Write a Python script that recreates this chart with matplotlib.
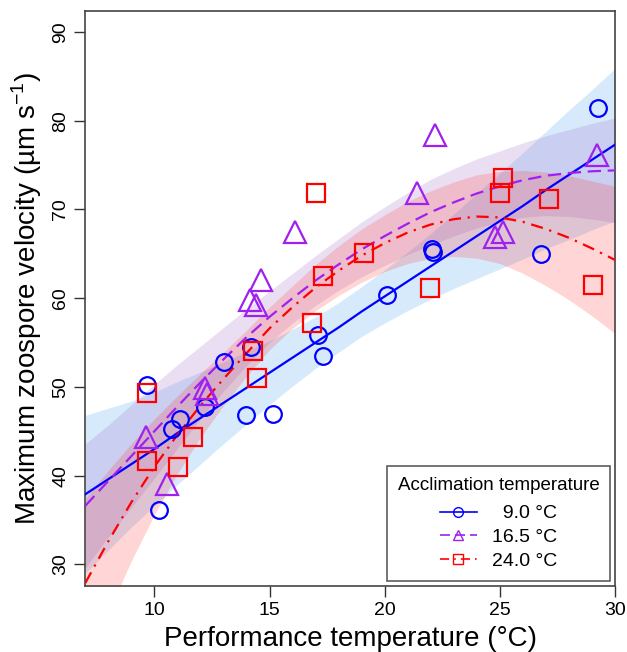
import numpy as np
import matplotlib
matplotlib.use('Agg')
import matplotlib.pyplot as plt
from matplotlib.lines import Line2D

plt.rcParams['font.family'] = ['Liberation Sans', 'DejaVu Sans']
plt.rcParams['mathtext.fontset'] = 'custom'
plt.rcParams['mathtext.rm'] = 'Liberation Sans'

x_9 = [29.26, 26.79, 22.05, 22.08, 20.1, 17.1, 17.32, 15.15, 13.98, 14.18,
       13.01, 12.21, 11.1, 10.77, 9.68, 10.22]
y_9 = [81.4, 65.0, 65.5, 65.2, 60.3, 55.8, 53.5, 46.9, 46.8, 54.5,
       52.8, 47.7, 46.4, 45.3, 50.2, 36.1]

x_16 = [29.2, 22.19, 21.4, 25.13, 24.79, 16.12, 14.64, 14.16, 14.41, 12.21,
        12.3, 9.65, 10.55]
y_16 = [76.1, 78.4, 71.9, 67.5, 66.9, 67.5, 62.0, 59.8, 59.2, 49.9,
        49.2, 44.4, 39.1]

x_24 = [17.03, 17.3, 19.08, 16.84, 25.12, 25.01, 27.14, 21.97, 29.06, 14.26,
        14.45, 9.68, 11.68, 9.68, 11.01]
y_24 = [71.8, 62.5, 65.05, 57.2, 73.5, 71.8, 71.2, 61.1, 61.5, 54.1,
        51.0, 49.3, 44.3, 41.6, 41.0]

# fitted curves and half-width of the 95% bands, read at each degree
curve_x = list(range(7, 31))
fit_9 = [37.9, 39.6, 41.3, 43.0, 44.8, 46.5, 48.2, 49.9, 51.6, 53.3, 55.0, 56.7,
         58.5, 60.2, 61.9, 63.6, 65.3, 67.0, 68.7, 70.4, 72.2, 73.9, 75.6, 77.3]
hw_9 = [8.9, 8.0, 7.1, 6.4, 5.8, 5.2, 4.6, 4.1, 3.6, 3.2, 2.9, 2.8,
        2.8, 3.0, 3.3, 3.7, 4.2, 4.8, 5.4, 6.0, 6.6, 7.3, 7.9, 8.6]
fit_16 = [36.6, 39.4, 42.2, 45.0, 47.8, 50.5, 53.1, 55.6, 57.9, 60.0, 62.0, 63.8,
          65.5, 67.0, 68.4, 69.7, 70.8, 71.8, 72.6, 73.3, 73.8, 74.1, 74.3, 74.4]
hw_16 = [7.0, 6.3, 5.8, 5.3, 4.7, 4.1, 3.6, 3.2, 2.9, 2.8, 2.8, 2.9,
         3.1, 3.3, 3.5, 3.7, 3.8, 3.9, 4.0, 4.2, 4.5, 4.9, 5.4, 5.9]
fit_24 = [27.9, 32.6, 37.0, 41.0, 44.6, 47.9, 50.9, 53.8, 56.6, 59.0, 61.2, 63.1,
          64.8, 66.2, 67.4, 68.3, 68.9, 69.2, 69.1, 68.6, 67.8, 66.8, 65.6, 64.3]
hw_24 = [9.5, 8.0, 6.6, 5.4, 4.4, 3.6, 3.0, 2.6, 2.4, 2.4, 2.6, 2.8,
         3.0, 3.2, 3.5, 3.8, 4.2, 4.7, 5.2, 5.8, 6.4, 7.0, 7.6, 8.3]

labels = ['\u20079.0 °C', '16.5 °C', '24.0 °C']
colors = ['#0000ff', '#a020f0', '#ff0000']
band_colors = ['#3a9af0', '#9a60c0', '#ff3030']
markers = ['o', '^', 's']
styles = ['-', (0, (6, 3)), (0, (5.5, 3, 1, 3))]
msizes = [12, 16, 13]

fig = plt.figure(figsize=(6.27, 6.52), dpi=100)
ax = fig.add_axes([0.136, 0.1017, 0.845, 0.882])

groups = [(x_9, y_9), (x_16, y_16), (x_24, y_24)]
fits = [(fit_9, hw_9), (fit_16, hw_16), (fit_24, hw_24)]

for i, (fit, hw) in enumerate(fits):
    fit = np.array(fit)
    hw = np.array(hw)
    ax.fill_between(curve_x, fit - hw, fit + hw, color=band_colors[i],
                    alpha=0.2, linewidth=0, zorder=1)
    ax.plot(curve_x, fit, color=colors[i], linestyle=styles[i], linewidth=1.6, zorder=3)

for i, (gx, gy) in enumerate(groups):
    ax.plot(gx, gy, linestyle='none', marker=markers[i], markersize=msizes[i],
            markerfacecolor='none', markeredgecolor=colors[i],
            markeredgewidth=1.6, zorder=4)

ax.set_xlim(7, 30)
ax.set_ylim(27.6, 92.4)
ax.set_xticks([10, 15, 20, 25, 30])
ax.set_yticks([30, 40, 50, 60, 70, 80, 90])
ax.tick_params(direction='out', length=8, width=1, colors='#333333',
               labelcolor='black', labelsize=14)
plt.setp(ax.get_yticklabels(), rotation=90, va='center')
for sp in ax.spines.values():
    sp.set_color('#444444')
    sp.set_linewidth(1.2)

ax.set_xlabel('Performance temperature (°C)', fontsize=20, labelpad=5)
ax.set_ylabel('Maximum zoospore velocity (µm s$^{-1}$)', fontsize=20, labelpad=6)

handles = [Line2D([], [], color=colors[i], linestyle=styles[i], marker=markers[i],
                  markersize=7, markerfacecolor='none', linewidth=1.2)
           for i in range(3)]
leg = ax.legend(handles, labels, title='Acclimation temperature', loc='lower right',
                fontsize=14, title_fontsize=13.5, frameon=True, fancybox=False,
                edgecolor='#333333', handlelength=1.9, borderaxespad=0.25,
                labelspacing=0.32, borderpad=0.55, handletextpad=0.8)
leg.get_frame().set_linewidth(1.2)
leg._legend_box.sep = 8

fig.savefig('out.png', dpi=100)
